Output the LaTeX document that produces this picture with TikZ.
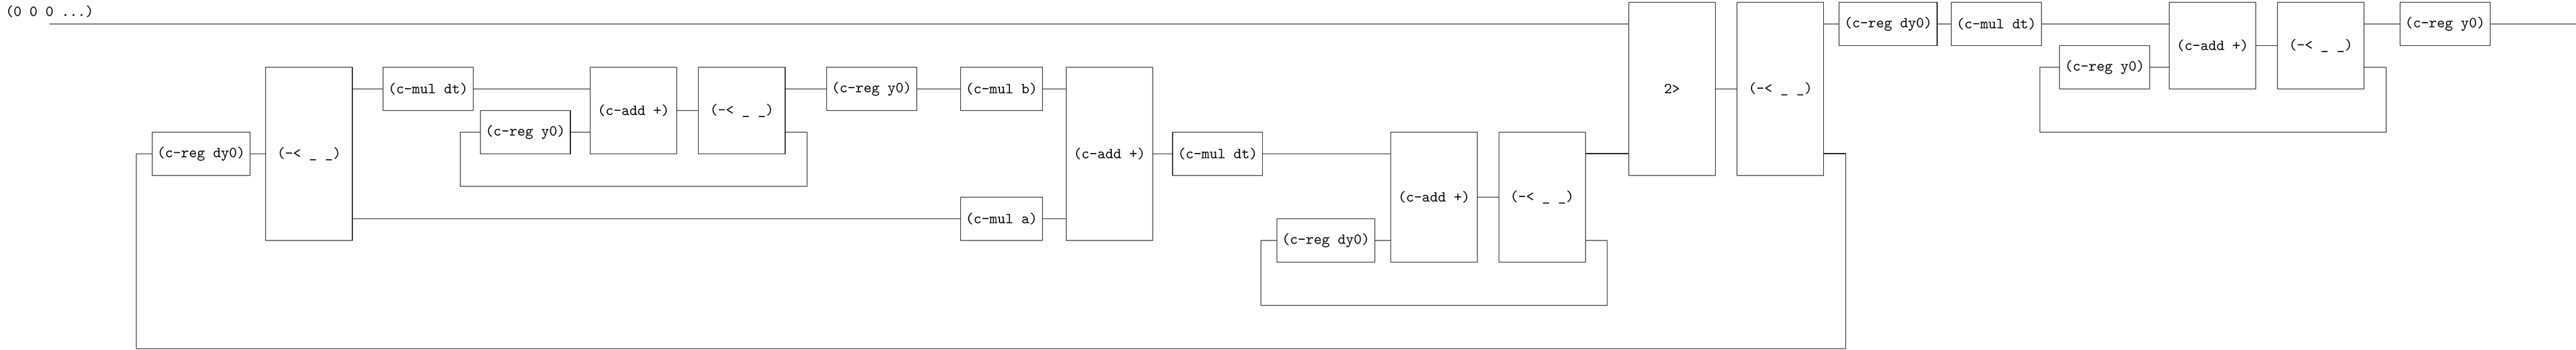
\documentclass[tikz,border=0pt]{standalone}
\usetikzlibrary{calc}
\tikzset{
  box/.style={draw, line width=0.4pt, minimum height=1cm, inner sep=0.3333em, font=\ttfamily},
  tall/.style={box, minimum width=2cm, minimum height=#1cm},
  wire/.style={line width=0.4pt},
}
\begin{document}
\begin{tikzpicture}
\useasboundingbox (0,0.0529) rectangle (59.489,-8.0176);
% nodes
\node[box] (regdya) at (4.643,-3.5) {(c-reg dy0)};
\node[tall=4] (spla) at (7.137,-3.5) {(-< \_ \_)};
\node[box] (muldta) at (9.885,-2) {(c-mul dt)};
\node[box] (regya) at (12.132,-3) {(c-reg y0)};
\node[tall=2] (adda) at (14.63,-2.5) {(c-add +)};
\node[tall=2] (splb) at (17.132,-2.5) {(-< \_ \_)};
\node[box] (regyb) at (20.128,-2) {(c-reg y0)};
\node[box] (mulb) at (23.128,-2) {(c-mul b)};
\node[box] (mula) at (23.128,-5) {(c-mul a)};
\node[tall=4] (addb) at (25.62,-3.5) {(c-add +)};
\node[box] (muldtb) at (28.119,-3.5) {(c-mul dt)};
\node[box] (regdyb) at (30.617,-5.5) {(c-reg dy0)};
\node[tall=3] (addc) at (33.115,-4.5) {(c-add +)};
\node[tall=3] (splc) at (35.612,-4.5) {(-< \_ \_)};
\node[tall=4] (gt) at (38.612,-2) {2>};
\node[tall=4] (spld) at (41.115,-2) {(-< \_ \_)};
\node[box] (regdyc) at (43.604,-0.5) {(c-reg dy0)};
\node[box] (muldtc) at (46.101,-0.5) {(c-mul dt)};
\node[box] (regyc) at (48.604,-1.5) {(c-reg y0)};
\node[tall=2] (addd) at (51.093,-1) {(c-add +)};
\node[tall=2] (sple) at (53.595,-1) {(-< \_ \_)};
\node[box] (regyd) at (56.463,-0.5) {(c-reg y0)};
\node[anchor=base, font=\ttfamily] (init) at (1.145,-0.317) {(0 0 0 ...)};
\coordinate (start) at (1.145,-0.5);
\coordinate (out) at (59.489,-0.5);
\coordinate (p) at ($(splc.north east)+(0,-0.5)$);
\coordinate (q) at ($(spld.north east)+(0,-3.5)$);
% wires
\draw[wire] (start) -- (start -| gt.west);
\draw[wire] (regdya.east) -- (spla.west);
\draw[wire] (spla.east |- muldta.west) -- (muldta.west);
\draw[wire] (spla.east |- mula.west) -- (mula.west);
\draw[wire] (muldta.east) -- (muldta.east -| adda.west);
\draw[wire] (regya.east) -- (regya.east -| adda.west);
\draw[wire] (adda.east) -- (splb.west);
\draw[wire] (splb.east |- regyb.west) -- (regyb.west);
\draw[wire] (splb.east |- regya.west) -- ++(0.5,0) |- ($(regya)+(-1.5,-1.25)$) |- (regya.west);
\draw[wire] (regyb.east) -- (mulb.west);
\draw[wire] (mulb.east) -- (mulb.east -| addb.west);
\draw[wire] (mula.east) -- (mula.east -| addb.west);
\draw[wire] (addb.east) -- (muldtb.west);
\draw[wire] (muldtb.east) -- (muldtb.east -| addc.west);
\draw[wire] (regdyb.east) -- (regdyb.east -| addc.west);
\draw[wire] (addc.east) -- (splc.west);
\draw[wire] (splc.east |- regdyb.west) -- ++(0.5,0) |- ($(regdyb)+(-1.5,-1.5)$) |- (regdyb.west);
\draw[wire] (p) -- (p -| gt.west);
\draw[wire] (gt.east) -- (spld.west);
\draw[wire] (spld.east |- regdyc.west) -- (regdyc.west);
\draw[wire] (q) -- ++(0.5,0) |- ($(regdya)+(-1.5,-4.5)$) |- (regdya.west);
\draw[wire] (regdyc.east) -- (muldtc.west);
\draw[wire] (muldtc.east) -- (muldtc.east -| addd.west);
\draw[wire] (regyc.east) -- (regyc.east -| addd.west);
\draw[wire] (addd.east) -- (sple.west);
\draw[wire] (sple.east |- regyd.west) -- (regyd.west);
\draw[wire] (sple.east |- regyc.west) -- ++(0.5,0) |- ($(regyc)+(-1.5,-1.5)$) |- (regyc.west);
\draw[wire] (regyd.east) -- (out);
\end{tikzpicture}
\end{document}
